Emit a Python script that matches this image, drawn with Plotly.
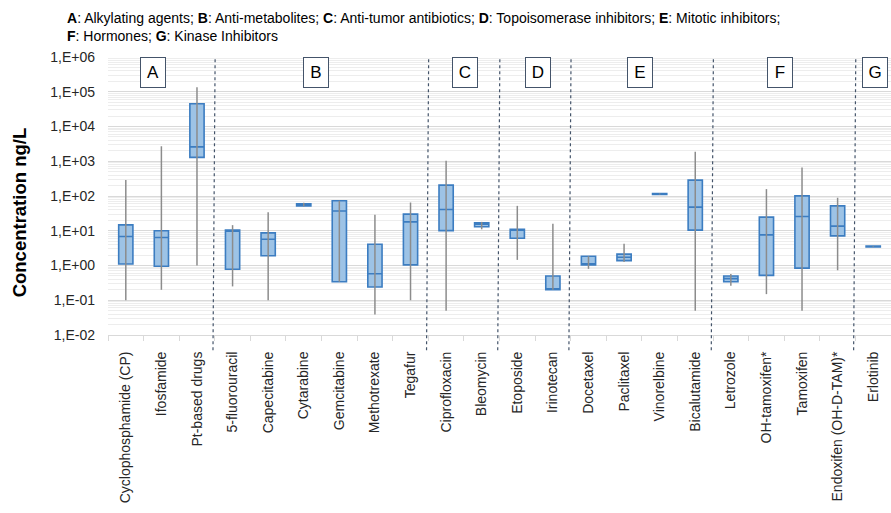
import plotly.graph_objects as go

# Drugs, grouped by therapeutic class (A-G)
drugs = [
    "Cyclophosphamide (CP)", "Ifosfamide", "Pt-based drugs",
    "5-fluorouracil", "Capecitabine", "Cytarabine", "Gemcitabine", "Methotrexate", "Tegafur",
    "Ciprofloxacin", "Bleomycin",
    "Etoposide", "Irinotecan",
    "Docetaxel", "Paclitaxel", "Vinorelbine", "Bicalutamide",
    "Letrozole", "OH-tamoxifen*", "Tamoxifen", "Endoxifen (OH-D-TAM)*",
    "Erlotinib",
]
drug_class = ["A"] * 3 + ["B"] * 6 + ["C"] * 2 + ["D"] * 2 + ["E"] * 4 + ["F"] * 4 + ["G"] * 1

# Concentration summary per drug (ng/L)
conc_min = [0.1, 0.2, 1.0, 0.25, 0.1, 50, 0.34, 0.039, 0.1, 0.05, 11,
            1.45, 0.2, 0.8, 1.26, 110, 0.05, 0.26, 0.15, 0.05, 0.73, 3.4]
conc_q1 = [1.1, 0.95, 1290, 0.78, 1.9, 52, 0.34, 0.24, 1.04, 10.1, 13,
           6.1, 0.2, 1.04, 1.38, 111, 10.4, 0.34, 0.52, 0.84, 7.1, 3.42]
conc_median = [6.8, 6.4, 2600, 10.4, 5.7, 56, 37, 0.58, 18, 41, 15.5,
               11.1, 0.2, 1.04, 1.73, 114, 48, 0.42, 7.6, 25.7, 13.6, 3.5]
conc_q3 = [14.8, 10, 45000, 10.4, 8.7, 60, 73, 4.1, 30, 206, 17,
           11.1, 0.5, 1.85, 2.12, 117, 287, 0.5, 24.6, 101, 52, 3.6]
conc_max = [290, 2700, 135000, 14.5, 34, 64, 73, 29, 65, 1030, 18,
            52, 15.8, 1.85, 4.2, 118, 1880, 0.57, 158, 664, 89, 3.6]

class_legend = [("A", "Alkylating agents"), ("B", "Anti-metabolites"),
                ("C", "Anti-tumor antibiotics"), ("D", "Topoisomerase inhibitors"),
                ("E", "Mitotic inhibitors"), ("F", "Hormones"), ("G", "Kinase Inhibitors")]

decades = list(range(-2, 7))

FONT = "Liberation Sans, Arial, sans-serif"
BOX_FILL = "#9DC3E6"
BOX_LINE = "#3C7DC1"
WHISKER = "#8C8C8C"
SEP = "#44546A"

fig = go.Figure()

# whiskers: one vertical segment per drug from min to max
wx, wy = [], []
for d, lo, hi in zip(drugs, conc_min, conc_max):
    wx += [d, d, None]
    wy += [lo, hi, None]
fig.add_trace(go.Scatter(x=wx, y=wy, mode="lines",
                         line=dict(color=WHISKER, width=1.5),
                         hoverinfo="skip", showlegend=False))

# interquartile boxes with median
fig.add_trace(go.Box(
    x=drugs, q1=conc_q1, median=conc_median, q3=conc_q3,
    lowerfence=conc_q1, upperfence=conc_q3,
    boxpoints=False, whiskerwidth=0, width=0.4,
    fillcolor=BOX_FILL, line=dict(color=BOX_LINE, width=1.6),
    showlegend=False,
))

# class separators and class labels
groups = []
for i, c in enumerate(drug_class):
    if not groups or groups[-1][0] != c:
        groups.append([c, i, i])
    else:
        groups[-1][2] = i

label_nudge = [-8, -6, 1, 3, -2, -4, 2]
for k, (c, start, end) in enumerate(groups):
    if k > 0:
        b = start - 0.5
        fig.add_shape(type="line", xref="x", yref="paper",
                      x0=b - 0.05, x1=b + 0.01, y0=-0.055, y1=1.0,
                      line=dict(color=SEP, width=1.2, dash="dot"))
    fig.add_annotation(x=(start + end) / 2, xref="x", y=1.0, yref="paper",
                       yanchor="top", xanchor="center", xshift=label_nudge[k],
                       text=c, showarrow=False,
                       font=dict(family=FONT, size=17, color="#000000"),
                       bgcolor="white", bordercolor=SEP, borderwidth=1,
                       width=24, height=29, borderpad=0)

legend_parts = [f"<b>{c}</b>: {name}" for c, name in class_legend]
legend_text = "; ".join(legend_parts[:5]) + ";<br>" + "; ".join(legend_parts[5:])
fig.add_annotation(x=-0.0549, xref="paper", y=1.177, yref="paper",
                   xanchor="left", yanchor="top", align="left",
                   text=legend_text, showarrow=False,
                   font=dict(family=FONT, size=14, color="#000000"))

fig.add_annotation(x=-0.1137, xref="paper", y=0.441, yref="paper",
                   text="<b>Concentration ng/L</b>", textangle=-90,
                   showarrow=False, xanchor="center", yanchor="middle",
                   font=dict(family=FONT, size=18.5, color="#000000"))

fig.update_xaxes(type="category", categoryorder="array", categoryarray=drugs,
                 tickangle=-90, tickson="boundaries", ticks="outside", ticklen=5,
                 tickcolor="#D9D9D9", showline=True, linecolor="#D9D9D9",
                 showgrid=False, ticklabelstandoff=10,
                 tickfont=dict(family=FONT, size=14, color="#262626"),
                 range=[-0.5, len(drugs) - 0.5])

fig.update_yaxes(type="log", range=[-2, 6],
                 tickvals=[10 ** d for d in decades],
                 ticktext=[f"1,E{'+' if d >= 0 else '-'}{abs(d):02d}" for d in decades],
                 showgrid=True, gridcolor="#D9D9D9", gridwidth=1,
                 minor=dict(showgrid=True, gridcolor="#EDEDED", gridwidth=1, dtick="D1"),
                 zeroline=False, showline=False, ticks="", ticklabelstandoff=12,
                 tickfont=dict(family=FONT, size=14, color="#262626"))

fig.update_layout(width=891, height=513,
                  margin=dict(l=108, r=0, t=57, b=178),
                  plot_bgcolor="white", paper_bgcolor="white",
                  font=dict(family=FONT), showlegend=False)

fig.write_html("out.html")
